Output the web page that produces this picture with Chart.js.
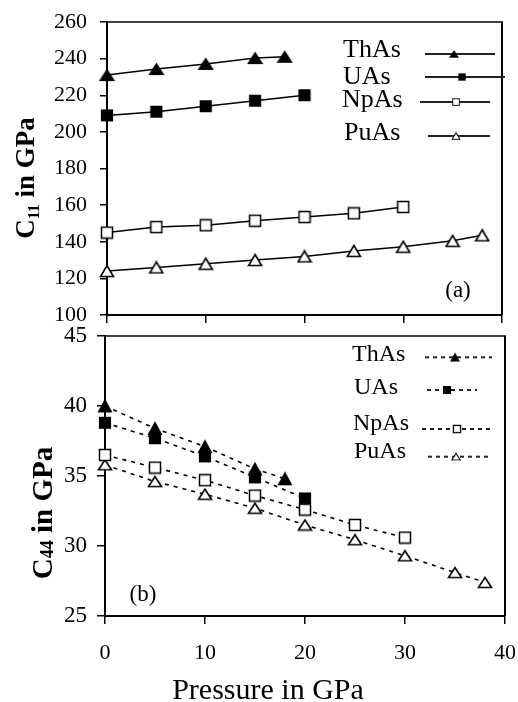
<!DOCTYPE html>
<html><head><meta charset="utf-8">
<script src="https://cdn.jsdelivr.net/npm/chart.js@4.4.1/dist/chart.umd.min.js"></script>
<style>
html,body{margin:0;padding:0;background:#fff;}
#wrap{position:relative;width:518px;height:702px;overflow:hidden;background:#fff;}
canvas{position:absolute;left:0;}
#ca{top:0;width:518px;height:330px;}
#cb{top:320px;width:518px;height:390px;}
</style></head><body>
<div id="wrap"><canvas id="ca" width="518" height="330"></canvas><canvas id="cb" width="518" height="390"></canvas></div>
<script>
// ---------- data ----------
const seriesNames = ['ThAs', 'UAs', 'NpAs', 'PuAs'];
const pressureTh = [0, 5, 10, 15, 18];
const pressureU  = [0, 5, 10, 15, 20];
const pressureNp = [0, 5, 10, 15, 20, 25, 30];
const pressurePu = [0, 5, 10, 15, 20, 25, 30, 35, 38];

const c11Th = [231, 234.3, 237.1, 240.3, 241];
const c11U  = [209, 211, 214, 217, 220];
const c11Np = [145, 148, 149, 151.5, 153.5, 155.5, 159];
const c11Pu = [124, 126, 128, 130, 132, 135, 137.3, 140.5, 143.5];

const c44Th = [40.0, 38.4, 37.1, 35.5, 34.8];
const c44U  = [38.8, 37.7, 36.4, 34.9, 33.4];
const c44Np = [36.5, 35.6, 34.7, 33.6, 32.6, 31.5, 30.6];
const c44Pu = [35.8, 34.6, 33.7, 32.7, 31.5, 30.45, 29.3, 28.1, 27.4];

const xTicks   = [0, 10, 20, 30, 40];
const c11Ticks = [100, 120, 140, 160, 180, 200, 220, 240, 260];
const c44Ticks = [25, 30, 35, 40, 45];

const xTitle = 'Pressure in GPa';
const panelTags = ['(a)', '(b)'];

// ---------- helpers ----------
const FONT = '"Liberation Serif", "Times New Roman", serif';
function marker(shape, filled, w, h, lw) {
  const c = document.createElement('canvas');
  c.width = w + 3; c.height = h + 3;
  const g = c.getContext('2d');
  g.lineWidth = lw; g.strokeStyle = '#000'; g.fillStyle = filled ? '#000' : '#fff';
  g.lineJoin = 'miter';
  g.beginPath();
  if (shape === 'tri') { g.moveTo(c.width / 2, 1.5); g.lineTo(w + 1.5, h + 1.5); g.lineTo(1.5, h + 1.5); g.closePath(); }
  else { g.rect(1.5, 1.5, w, h); }
  g.fill(); g.stroke();
  return c;
}
const pts = (xs, ys) => xs.map((x, i) => ({x: x, y: ys[i]}));

function drawRotTitle(ctx, cx, cy, main, sub, rest, size, subSize, subDrop) {
  ctx.save();
  ctx.translate(cx, cy);
  ctx.rotate(-Math.PI / 2);
  ctx.fillStyle = '#000';
  ctx.textBaseline = 'alphabetic';
  const fBig = 'bold ' + size + 'px ' + FONT;
  const fSmall = 'bold ' + subSize + 'px ' + FONT;
  ctx.font = fBig; const w1 = ctx.measureText(main).width; const w3 = ctx.measureText(rest).width;
  ctx.font = fSmall; const w2 = ctx.measureText(sub).width;
  let x = -(w1 + w2 + w3) / 2;
  const base = size * 0.33;
  ctx.font = fBig; ctx.fillText(main, x, base); x += w1;
  ctx.font = fSmall; ctx.fillText(sub, x, base + subDrop); x += w2;
  ctx.font = fBig; ctx.fillText(rest, x, base);
  ctx.restore();
}

const panelPlugin = {
  id: 'panel',
  beforeDatasetsDraw(chart, args, o) {
    const {ctx, chartArea: a} = chart;
    ctx.save();
    ctx.strokeStyle = '#000';
    ctx.lineWidth = o.topWidth;
    ctx.beginPath(); ctx.moveTo(a.left, a.top); ctx.lineTo(a.right + 1, a.top); ctx.stroke();
    ctx.lineWidth = o.rightWidth;
    ctx.beginPath(); ctx.moveTo(a.right, a.top); ctx.lineTo(a.right, a.bottom); ctx.stroke();
    ctx.restore();
  },
  afterDraw(chart, args, o) {
    const {ctx, chartArea: a} = chart;
    // y title
    const t = o.yTitle;
    drawRotTitle(ctx, t.cx, t.cy, t.main, t.sub, t.rest, t.size, t.subSize, t.subDrop);
    // x title
    if (o.xTitle) {
      ctx.save();
      ctx.fillStyle = '#000';
      ctx.font = o.xTitle.size + 'px ' + FONT;
      ctx.textAlign = 'center'; ctx.textBaseline = 'alphabetic';
      ctx.fillText(o.xTitle.text, o.xTitle.x, o.xTitle.y);
      ctx.restore();
    }
    // panel tag
    ctx.save();
    ctx.fillStyle = '#000';
    ctx.font = o.tag.size + 'px ' + FONT;
    ctx.textAlign = 'center'; ctx.textBaseline = 'middle';
    ctx.fillText(o.tag.text, a.left + o.tag.dx, a.bottom + o.tag.dy);
    ctx.restore();
    // legend
    const L = o.legend;
    chart.data.datasets.forEach((ds, i) => {
      const r = L.rows[i];
      ctx.save();
      ctx.fillStyle = '#000';
      ctx.font = L.size + 'px ' + FONT;
      ctx.textAlign = 'left'; ctx.textBaseline = 'alphabetic';
      ctx.fillText(ds.label, r.tx, r.ty);
      ctx.strokeStyle = L.lineColor;
      ctx.lineWidth = L.lineWidth;
      ctx.setLineDash(L.dash);
      ctx.beginPath(); ctx.moveTo(r.x1, r.y); ctx.lineTo(r.x2, r.y); ctx.stroke();
      ctx.setLineDash([]);
      const img = ds.pointStyle;
      const s = L.markerScale;
      ctx.drawImage(img, r.mx - img.width * s / 2, r.y - img.height * s / 2, img.width * s, img.height * s);
      ctx.restore();
    });
  }
};

function axisX(showLabels, fitH, tickPad) {
  return {
    type: 'linear', min: xTicks[0], max: xTicks[xTicks.length - 1],
    afterBuildTicks: s => { s.ticks = xTicks.map(v => ({value: v})); },
    ticks: {display: showLabels, color: '#000', font: {family: FONT, size: 22}, padding: tickPad, maxRotation: 0},
    grid: {drawOnChartArea: false, drawTicks: true, tickLength: 8, color: '#000', lineWidth: 1.5},
    border: {display: true, color: '#000', width: 2},
    title: {display: false},
    afterFit: s => { s.height = fitH; s.paddingLeft = 0; s.paddingRight = 0; }
  };
}
function axisY(tickVals, fitW, size, pad, tl) {
  return {
    type: 'linear', min: tickVals[0], max: tickVals[tickVals.length - 1],
    afterBuildTicks: s => { s.ticks = tickVals.map(v => ({value: v})); },
    ticks: {color: '#000', font: {family: FONT, size: size}, padding: pad},
    grid: {drawOnChartArea: false, drawTicks: true, tickLength: tl, color: '#000', lineWidth: 1.5},
    border: {display: true, color: '#000', width: 2},
    afterFit: s => { s.width = fitW; s.paddingTop = 0; s.paddingBottom = 0; }
  };
}

// ---------- panel (a) ----------
const mA = [marker('tri', true, 14, 11, 1.2), marker('sq', true, 11, 11, 1.2), marker('sq', false, 11, 11, 1.5), marker('tri', false, 13, 11, 1.6)];
const dataA = [[pressureTh, c11Th], [pressureU, c11U], [pressureNp, c11Np], [pressurePu, c11Pu]];
new Chart(document.getElementById('ca'), {
  type: 'line',
  data: {
    datasets: dataA.map((d, i) => ({
      label: seriesNames[i], data: pts(d[0], d[1]),
      borderColor: '#000', borderWidth: 1.5, pointStyle: mA[i], pointRadius: 6,
      fill: false, tension: 0, clip: false
    }))
  },
  options: {
    responsive: false, animation: false, events: [],
    layout: {padding: {top: 22, right: 16, left: 0, bottom: 0}},
    scales: {x: axisX(false, 15, 0), y: axisY(c11Ticks, 107, 22, 13, 7)},
    plugins: {
      legend: {display: false}, tooltip: {enabled: false},
      panel: {
        topWidth: 1.5, rightWidth: 2,
        yTitle: {cx: 25, cy: 178, main: 'C', sub: '11', rest: ' in GPa', size: 27, subSize: 16, subDrop: 5},
        tag: {text: panelTags[0], size: 23, dx: 351, dy: -24},
        legend: {
          size: 26, lineColor: '#222', lineWidth: 2, dash: [], markerScale: 0.6,
          rows: [
            {tx: 343, ty: 57, x1: 425, x2: 495, y: 54, mx: 454},
            {tx: 343, ty: 83.5, x1: 425, x2: 505, y: 77, mx: 462},
            {tx: 342, ty: 107, x1: 420, x2: 490, y: 102, mx: 456},
            {tx: 344, ty: 140, x1: 428, x2: 490, y: 136, mx: 456}
          ]
        }
      }
    }
  },
  plugins: [panelPlugin]
});

// ---------- panel (b) ----------
const mB = [marker('tri', true, 13, 12, 1.2), marker('sq', true, 11, 11, 1.2), marker('sq', false, 11, 11, 1.5), marker('tri', false, 13, 10, 1.6)];
const dataB = [[pressureTh, c44Th], [pressureU, c44U], [pressureNp, c44Np], [pressurePu, c44Pu]];
new Chart(document.getElementById('cb'), {
  type: 'line',
  data: {
    datasets: dataB.map((d, i) => ({
      label: seriesNames[i], data: pts(d[0], d[1]),
      borderColor: '#000', borderWidth: 1.6, borderDash: [4, 5], pointStyle: mB[i], pointRadius: 6,
      fill: false, tension: 0, clip: false
    }))
  },
  options: {
    responsive: false, animation: false, events: [],
    layout: {padding: {top: 16, right: 13, left: 0, bottom: 0}},
    scales: {x: axisX(true, 94, 16), y: axisY(c44Ticks, 105, 23, 10, 8)},
    plugins: {
      legend: {display: false}, tooltip: {enabled: false},
      panel: {
        topWidth: 1.5, rightWidth: 2,
        yTitle: {cx: 42, cy: 193, main: 'C', sub: '44', rest: ' in GPa', size: 29, subSize: 18, subDrop: 1},
        xTitle: {text: xTitle, x: 268, y: 379, size: 30},
        tag: {text: panelTags[1], size: 23, dx: 38, dy: -21},
        legend: {
          size: 24, lineColor: '#222', lineWidth: 2, dash: [4, 4], markerScale: 0.65,
          rows: [
            {tx: 352, ty: 40.7, x1: 425, x2: 492, y: 37.3, mx: 455},
            {tx: 354, ty: 74, x1: 427, x2: 477, y: 70, mx: 447},
            {tx: 353, ty: 110, x1: 422, x2: 490, y: 109, mx: 457},
            {tx: 354, ty: 138.3, x1: 428, x2: 490, y: 136.7, mx: 456}
          ]
        }
      }
    }
  },
  plugins: [panelPlugin]
});
</script>
</body></html>
